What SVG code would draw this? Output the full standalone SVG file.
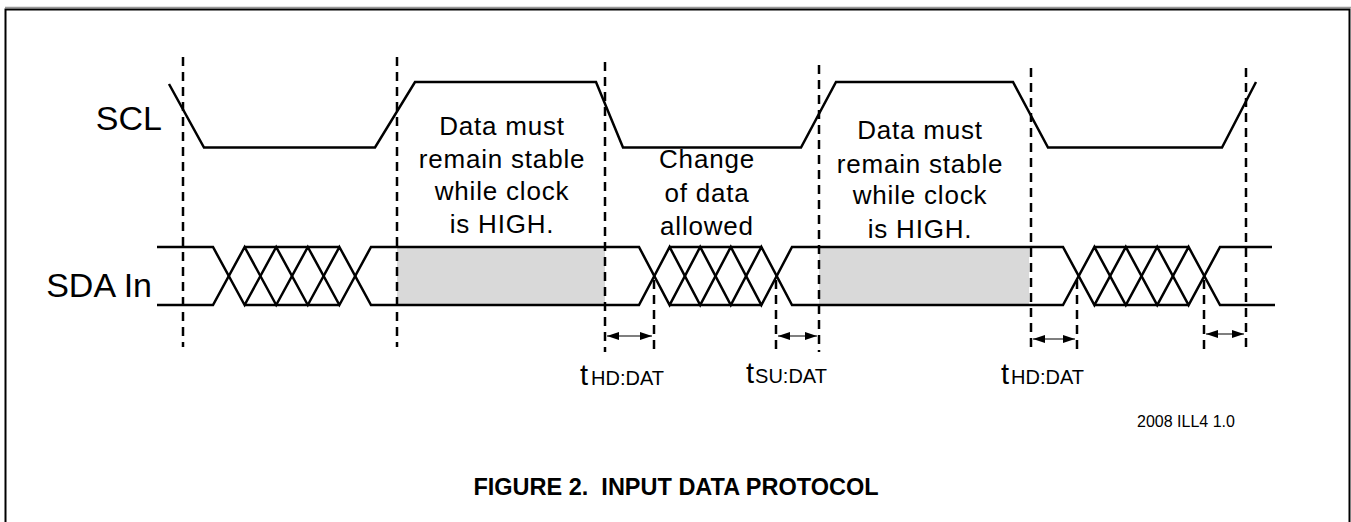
<svg xmlns="http://www.w3.org/2000/svg" width="1351" height="522" viewBox="0 0 1351 522">
<defs>
<style>
.sig{fill:none;stroke:#000;stroke-width:2.5;stroke-linejoin:miter}
.dash{fill:none;stroke:#000;stroke-width:2.5;stroke-dasharray:9 6}
.arr{fill:none;stroke:#000;stroke-width:1.2;marker-start:url(#ah);marker-end:url(#ah)}
.lbl{font-family:"Liberation Sans",Arial,sans-serif;fill:#000}
.note{font-family:"Liberation Sans",Arial,sans-serif;font-size:26px;letter-spacing:0.8px;fill:#000;text-anchor:middle}
.gray{fill:#d9d9d9}
</style>
<marker id="ah" viewBox="0 0 12 8" refX="12" refY="4" markerWidth="12" markerHeight="8" markerUnits="userSpaceOnUse" orient="auto-start-reverse">
<path d="M0,0 L12,4 L0,8 Z" fill="#000"/>
</marker>
</defs>
<rect width="1351" height="522" fill="#fff"/>
<g id="frame">
<line x1="5" y1="7.5" x2="1351" y2="7.5" stroke="#999" stroke-width="1.5"/>
<polyline points="5.5,522 5.5,9.5 1349.5,9.5 1349.5,522" fill="none" stroke="#000" stroke-width="2"/>
</g>
<g id="gray-regions">
<rect class="gray" x="397" y="247" width="208" height="58"/>
<rect class="gray" x="819" y="247" width="210" height="58"/>
</g>
<g id="scl">
<text class="lbl" x="162" y="130" font-size="34" text-anchor="end">SCL</text>
<polyline class="sig" points="169,84 204,147.5 375,147.5 415,82 596,82 623,147.5 801,147.5 836,82 1013,82 1048,147.5 1222,147.5 1256,82"/>
</g>
<g id="sda">
<text class="lbl" x="152" y="297" font-size="34" text-anchor="end">SDA In</text>
<path class="sig" d="M157,247 H213 L244.6,305 L276.2,247 L307.8,305 L339.4,247 L371,305 H639 L669.6,247 L700.2,305 L730.8,247 L761.4,305 L792,247 H1063 L1094.4,305 L1125.8,247 L1157.2,305 L1188.6,247 L1220,305 H1275"/>
<path class="sig" d="M157,305 H213 L244.6,247 L276.2,305 L307.8,247 L339.4,305 L371,247 H639 L669.6,305 L700.2,247 L730.8,305 L761.4,247 L792,305 H1063 L1094.4,247 L1125.8,305 L1157.2,247 L1188.6,305 L1220,247 H1272"/>
<path class="sig" d="M244.6,247 H339.4 M244.6,305 H339.4 M669.6,247 H761.4 M669.6,305 H761.4 M1094.4,247 H1188.6 M1094.4,305 H1188.6"/>
</g>
<g id="connectors">
<line class="dash" x1="183" y1="57" x2="183" y2="347"/>
<line class="dash" x1="397" y1="57" x2="397" y2="347"/>
<line class="dash" x1="605" y1="62" x2="605" y2="352"/>
<line class="dash" x1="819" y1="65" x2="819" y2="352"/>
<line class="dash" x1="1031" y1="68" x2="1031" y2="352"/>
<line class="dash" x1="1246" y1="68" x2="1246" y2="352"/>
<line class="dash" x1="654" y1="280" x2="654" y2="352"/>
<line class="dash" x1="776" y1="280" x2="776" y2="352"/>
<line class="dash" x1="1077" y1="280" x2="1077" y2="352"/>
<line class="dash" x1="1204" y1="280" x2="1204" y2="352"/>
<line class="arr" x1="607" y1="336" x2="652" y2="336"/>
<line class="arr" x1="778" y1="336" x2="817" y2="336"/>
<line class="arr" x1="1033" y1="339" x2="1075" y2="339"/>
<line class="arr" x1="1206" y1="334" x2="1244" y2="334"/>
</g>
<g id="note-stable-1">
<text class="note" y="135"><tspan x="502">Data must</tspan><tspan x="502" y="168">remain stable</tspan><tspan x="502" y="200">while clock</tspan><tspan x="502" y="233">is HIGH.</tspan></text>
</g>
<g id="note-change">
<text class="note" y="168"><tspan x="707">Change</tspan><tspan x="707" y="202">of data</tspan><tspan x="707" y="235">allowed</tspan></text>
</g>
<g id="note-stable-2">
<text class="note" y="139"><tspan x="920">Data must</tspan><tspan x="920" y="173">remain stable</tspan><tspan x="920" y="204">while clock</tspan><tspan x="920" y="238">is HIGH.</tspan></text>
</g>
<g id="timing-labels">
<text class="lbl" x="580" y="385"><tspan font-size="29">t</tspan><tspan font-size="20" dx="3">HD:DAT</tspan></text>
<text class="lbl" x="746" y="383"><tspan font-size="29">t</tspan><tspan font-size="20" dx="1">SU:DAT</tspan></text>
<text class="lbl" x="1001" y="384"><tspan font-size="29">t</tspan><tspan font-size="20" dx="2">HD:DAT</tspan></text>
</g>
<text class="lbl" x="1137" y="427" font-size="16">2008 ILL4 1.0</text>
<text class="lbl" x="676" y="495" font-size="23.5" font-weight="bold" text-anchor="middle" xml:space="preserve">FIGURE 2.  INPUT DATA PROTOCOL</text>
</svg>
